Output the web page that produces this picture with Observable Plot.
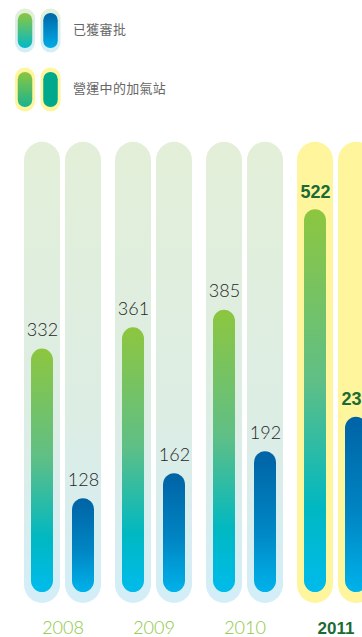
<!DOCTYPE html>
<html>
<head>
<meta charset="utf-8">
<script src="https://cdn.jsdelivr.net/npm/d3@7"></script>
<script src="https://cdn.jsdelivr.net/npm/@observablehq/plot@0.6"></script>
<style>
  html, body { margin: 0; padding: 0; background: #fff; width: 362px; height: 637px; overflow: hidden; }
  #legend { position: relative; height: 125px; font-family: "Noto Sans CJK TC", sans-serif; font-size: 13px; color: #666; }
  #legend .row { position: absolute; left: 15px; display: flex; align-items: center; }
  #legend .row span { margin-left: 12px; letter-spacing: 0.3px; position: relative; top: -2px; }
  #chart svg { display: block; }
</style>
</head>
<body>
<div id="legend"></div>
<div id="chart"></div>
<script>
// Natural-gas filling stations: approvals vs. stations in operation, by year
const years = ["2008", "2009", "2010", "2011"];
const approved = [332, 361, 385, 522];
const operating = [128, 162, 192, 239];
const seriesNames = ["approved", "operating"];
const legendLabels = ["已獲審批", "營運中的加氣站"];
const highlightYear = "2011";

const rows = years.flatMap((year, i) => [
  {year, series: "approved", value: approved[i]},
  {year, series: "operating", value: operating[i]}
]);

const isHi = (d) => d.year === highlightYear;
const isHiYear = (y) => y === highlightYear;

// the pale track behind each bar runs a little past both ends of the value range
const trackFloor = -15;
const trackCeil = 614;

const lightFont = "Lato, 'Open Sans', sans-serif";
const boldFont = "'Liberation Sans', Arial, sans-serif";

const trackTracks = (filter, fill) =>
  Plot.barY(rows, {filter, fx: "year", x: "series", y1: trackFloor, y2: trackCeil, fill, rx: 18.5});

const valueBars = (series, fill) =>
  Plot.barY(rows, {
    filter: (d) => d.series === series,
    fx: "year", x: "series", y1: 0, y2: "value",
    insetLeft: 7, insetRight: 7, rx: 11.5, fill
  });

const chart = Plot.plot({
  width: 362,
  height: 512,
  marginTop: 27,
  marginBottom: 45,
  marginLeft: 0,
  marginRight: 0,
  style: {background: "transparent", overflow: "hidden"},
  fx: {domain: years, range: [22, 375], paddingInner: 0.135, paddingOuter: 0, axis: null},
  x: {domain: seriesNames, paddingInner: 0.119, paddingOuter: 0, axis: null},
  y: {domain: [0, 600], axis: null},
  marks: [
    trackTracks((d) => !isHi(d), "url(#track)"),
    trackTracks(isHi, "#fff59d"),
    valueBars("approved", "url(#barApproved)"),
    valueBars("operating", "url(#barOperating)"),
    Plot.text(rows, {
      filter: (d) => !isHi(d),
      fx: "year", x: "series", y: "value",
      text: (d) => String(d.value),
      dy: -13, lineAnchor: "bottom",
      fontSize: 18, fontWeight: 300, fontFamily: lightFont, fill: "#262626"
    }),
    Plot.text(rows, {
      filter: isHi,
      fx: "year", x: "series", y: "value",
      text: (d) => String(d.value),
      dy: -12, lineAnchor: "bottom",
      fontSize: 18, fontWeight: "bold", fontFamily: boldFont, fill: "#1b6b35"
    }),
    Plot.text(years.filter((y) => !isHiYear(y)), {
      fx: (d) => d, text: (d) => d,
      frameAnchor: "bottom", lineAnchor: "bottom", dy: 41,
      fontSize: 18, fontWeight: 300, fontFamily: lightFont, fill: "#8dc63f"
    }),
    Plot.text(years.filter(isHiYear), {
      fx: (d) => d, text: (d) => d,
      frameAnchor: "bottom", lineAnchor: "bottom", dy: 41,
      fontSize: 17, fontWeight: "bold", fontFamily: boldFont, fill: "#1b6b35"
    })
  ]
});

// vertical gradients, one per bar (objectBoundingBox units)
function addGradients(defs) {
  const grad = (id, stops) => {
    const g = defs.append("linearGradient").attr("id", id)
      .attr("x1", 0).attr("y1", 0).attr("x2", 0).attr("y2", 1);
    stops.forEach(([o, c]) => g.append("stop").attr("offset", o).attr("stop-color", c));
  };
  grad("track", [[0, "#e3efd8"], [0.6, "#dcede4"], [1, "#d3eef8"]]);
  grad("barApproved", [[0, "#8dc63f"], [0.45, "#5fbf86"], [0.78, "#00b8c2"], [1, "#00bbec"]]);
  grad("barOperating", [[0, "#0063a5"], [0.55, "#0085c3"], [1, "#00b2ea"]]);
}
addGradients(d3.select(chart).insert("defs", ":first-child"));
document.getElementById("chart").append(chart);

// legend: a pair of pill swatches per entry, followed by its label
const legend = d3.select("#legend");
const legendRows = [
  {label: legendLabels[0], top: 8, track: "url(#lgTrack)", fills: ["url(#lgApproved)", "url(#lgOperating)"]},
  {label: legendLabels[1], top: 67, track: "#fff59d", fills: ["url(#lgApproved2)", "#00a98c"]}
];
legendRows.forEach((r, i) => {
  const row = legend.append("div").attr("class", "row").style("top", r.top + "px");
  const s = row.append("svg").attr("width", 46).attr("height", 45);
  if (i === 0) {
    const defs = s.append("defs");
    const grad = (id, stops) => {
      const g = defs.append("linearGradient").attr("id", id)
        .attr("x1", 0).attr("y1", 0).attr("x2", 0).attr("y2", 1);
      stops.forEach(([o, c]) => g.append("stop").attr("offset", o).attr("stop-color", c));
    };
    grad("lgTrack", [[0, "#e3efd8"], [1, "#d3eef8"]]);
    grad("lgApproved", [[0, "#8dc63f"], [1, "#00b9c8"]]);
    grad("lgOperating", [[0, "#0067a8"], [1, "#00ace6"]]);
    grad("lgApproved2", [[0, "#8dc63f"], [1, "#19b38f"]]);
  }
  r.fills.forEach((f, j) => {
    const g = s.append("g").attr("transform", `translate(${j * 25.5},0.5)`);
    g.append("rect").attr("width", 20).attr("height", 44).attr("rx", 10).attr("fill", r.track);
    g.append("rect").attr("x", 2.75).attr("y", 4.5).attr("width", 14.5).attr("height", 35).attr("rx", 7.25).attr("fill", f);
  });
  row.append("span").text(r.label);
});
</script>
</body>
</html>
